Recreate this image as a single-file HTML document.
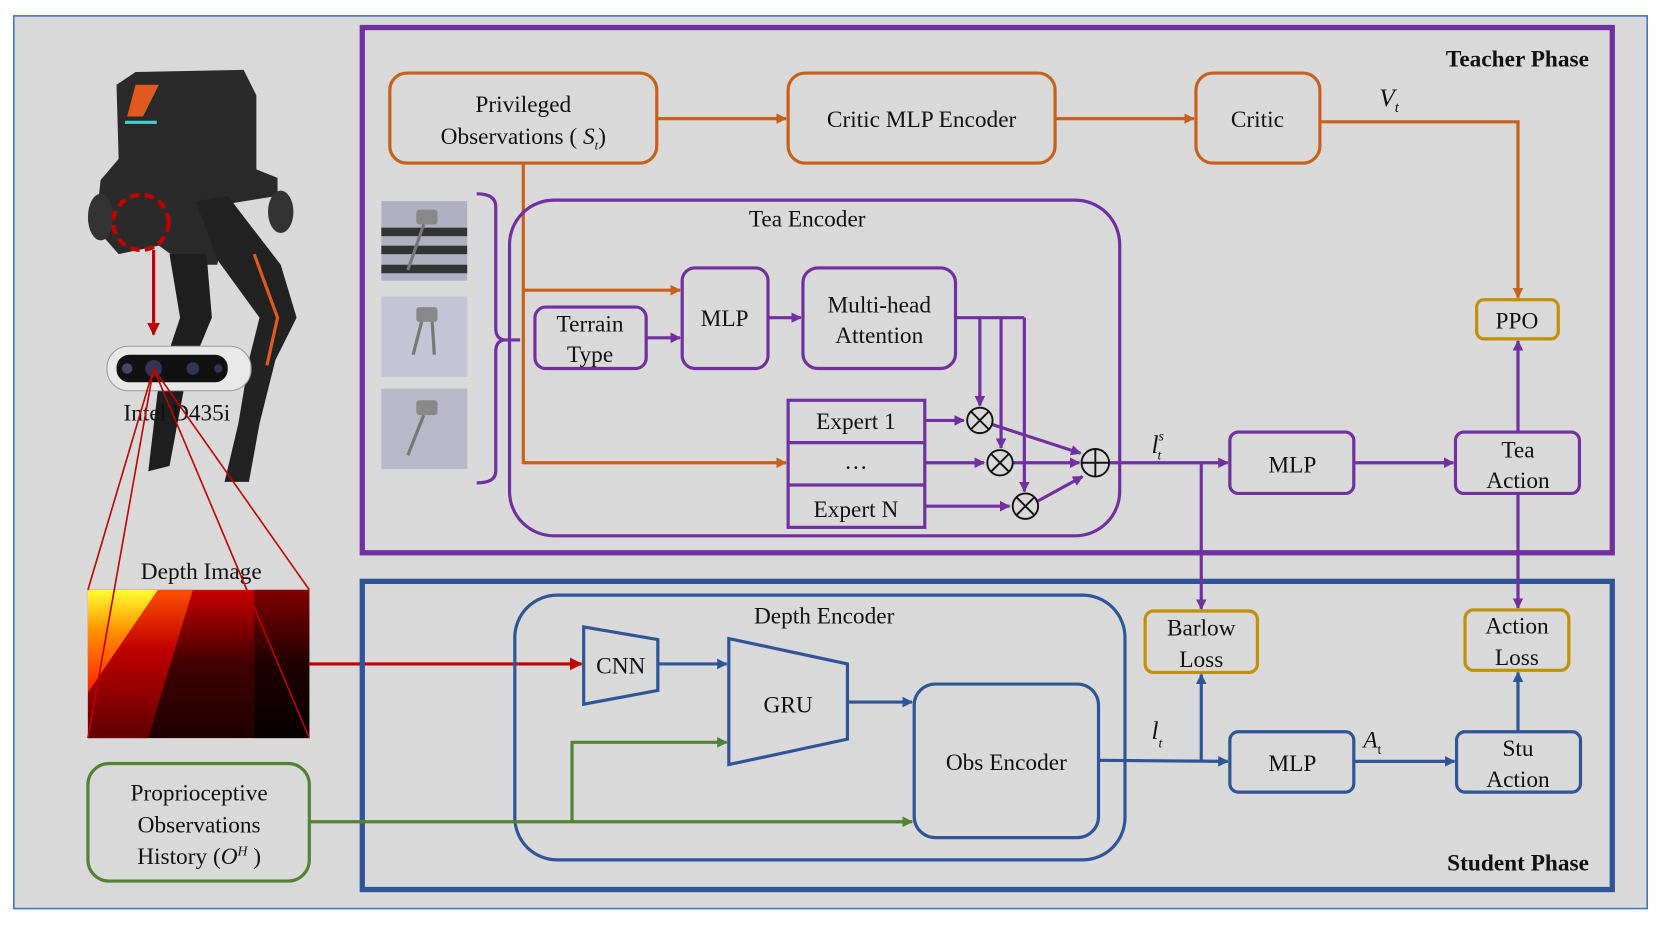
<!DOCTYPE html>
<html><head><meta charset="utf-8"><style>
html,body{margin:0;padding:0;background:#fff;}
svg{display:block;}
text{font-family:"Liberation Serif",serif;fill:#111;}
</style></head><body>
<svg width="1661" height="934" viewBox="0 0 1568 882" preserveAspectRatio="none" xmlns="http://www.w3.org/2000/svg">
<defs>
<marker id="ao" markerWidth="10" markerHeight="10" refX="9" refY="5" orient="auto" markerUnits="userSpaceOnUse"><path d="M0,0 L10,5 L0,10z" fill="#c8601a"/></marker>
<marker id="ap" markerWidth="10" markerHeight="10" refX="9" refY="5" orient="auto" markerUnits="userSpaceOnUse"><path d="M0,0 L10,5 L0,10z" fill="#7030a0"/></marker>
<marker id="ab" markerWidth="10" markerHeight="10" refX="9" refY="5" orient="auto" markerUnits="userSpaceOnUse"><path d="M0,0 L10,5 L0,10z" fill="#2f5597"/></marker>
<marker id="ag" markerWidth="10" markerHeight="10" refX="9" refY="5" orient="auto" markerUnits="userSpaceOnUse"><path d="M0,0 L10,5 L0,10z" fill="#548235"/></marker>
<marker id="ar" markerWidth="12" markerHeight="12" refX="11" refY="6" orient="auto" markerUnits="userSpaceOnUse"><path d="M0,0 L12,6 L0,12z" fill="#c00000"/></marker>
<linearGradient id="dk" x1="0" y1="0" x2="0" y2="1"><stop offset="0" stop-color="#c80000"/><stop offset="0.5" stop-color="#400000"/><stop offset="1" stop-color="#200000"/></linearGradient>
<linearGradient id="dr" x1="0" y1="0" x2="0" y2="1"><stop offset="0" stop-color="#800000"/><stop offset="0.5" stop-color="#200000"/><stop offset="1" stop-color="#050000"/></linearGradient>
<linearGradient id="rd" x1="0" y1="0" x2="0" y2="1"><stop offset="0" stop-color="#ff5000"/><stop offset="0.4" stop-color="#c00000"/><stop offset="1" stop-color="#600000"/></linearGradient>
<linearGradient id="yl" x1="0" y1="0" x2="0" y2="1"><stop offset="0" stop-color="#ffff30"/><stop offset="0.4" stop-color="#ff9000"/><stop offset="1" stop-color="#ff2000"/></linearGradient>
</defs>
<rect x="13" y="15" width="1542" height="843" fill="#d9d9d9" stroke="#4472c4" stroke-width="1.5"/>

<!-- robot -->
<g>
<path d="M110,80 L128,68 L230,66 L242,90 L242,160 L262,168 L262,185 L218,192 L205,250 L175,250 L150,232 L112,240 L90,215 L95,170 L112,150 Z" fill="#2a2a2a"/>
<path d="M128,80 L150,80 L135,110 L120,110Z" fill="#e05a20"/>
<rect x="118" y="114" width="30" height="3" fill="#40d0d0"/>
<path d="M185,190 L215,185 L265,250 L280,300 L260,340 L245,400 L235,455 L212,455 L225,400 L235,340 L245,300 L205,245Z" fill="#222"/>
<path d="M240,240 L262,300 L252,345" stroke="#e05a20" stroke-width="3" fill="none"/>
<path d="M160,240 L195,240 L200,300 L175,360 L160,440 L140,445 L150,360 L170,300Z" fill="#1e1e1e"/>
<ellipse cx="95" cy="205" rx="12" ry="22" fill="#333"/>
<ellipse cx="265" cy="200" rx="12" ry="20" fill="#333"/>
<circle cx="133" cy="210" r="26" fill="none" stroke="#c00000" stroke-width="4" stroke-dasharray="9,5"/>
<line x1="145" y1="236" x2="145" y2="316" stroke="#c00000" stroke-width="3" marker-end="url(#ar)"/>
<rect x="101" y="327" width="136" height="42" rx="20" fill="#e8e8e8" stroke="#999"/>
<rect x="110" y="335" width="105" height="26" rx="12" fill="#111"/>
<circle cx="120" cy="348" r="5" fill="#446"/><circle cx="145" cy="348" r="8" fill="#335"/><circle cx="182" cy="348" r="6" fill="#335"/><circle cx="206" cy="348" r="4" fill="#335"/>
<text x="167" y="397" font-size="22" text-anchor="middle">Intel D435i</text>
</g>
<text x="190" y="547" font-size="22" text-anchor="middle">Depth Image</text>
<rect x="83" y="557" width="209" height="140" fill="url(#dk)"/>
<rect x="240" y="557" width="52" height="140" fill="url(#dr)"/>
<polygon points="83,557 182,557 140,697 83,697" fill="url(#rd)"/>
<polygon points="83,557 149,557 83,654" fill="url(#yl)"/>
<g stroke="#c00000" stroke-width="1.5"><line x1="145" y1="348" x2="83" y2="557"/><line x1="145" y1="348" x2="83" y2="697"/><line x1="145" y1="348" x2="292" y2="557"/><line x1="145" y1="348" x2="292" y2="697"/></g>
<line x1="292" y1="627" x2="549" y2="627" stroke="#c00000" stroke-width="3" marker-end="url(#ar)"/>

<!-- proprio -->
<rect x="83" y="721" width="209" height="111" rx="20" fill="none" stroke="#548235" stroke-width="3"/>
<text x="188" y="756" font-size="22" text-anchor="middle">Proprioceptive</text>
<text x="188" y="786" font-size="22" text-anchor="middle">Observations</text>
<text x="188" y="816" font-size="22" text-anchor="middle">History (<tspan font-style="italic">O</tspan><tspan font-size="13" dy="-8" font-style="italic">H</tspan><tspan dy="8"> )</tspan></text>

<!-- phases -->
<rect x="342" y="26" width="1180" height="496" fill="none" stroke="#7030a0" stroke-width="5"/>
<rect x="342" y="549" width="1180" height="291" fill="none" stroke="#2f5597" stroke-width="5"/>
<text x="1500" y="63" font-size="22" font-weight="bold" text-anchor="end">Teacher Phase</text>
<text x="1500" y="822" font-size="22" font-weight="bold" text-anchor="end">Student Phase</text>

<!-- orange -->
<g fill="none" stroke="#c8601a" stroke-width="3">
<rect x="368" y="69" width="252" height="85" rx="16"/>
<rect x="744" y="69" width="252" height="85" rx="16"/>
<rect x="1129" y="69" width="117" height="85" rx="16"/>
<line x1="620" y1="112" x2="742" y2="112" marker-end="url(#ao)"/>
<line x1="996" y1="112" x2="1127" y2="112" marker-end="url(#ao)"/>
<polyline points="1246,115 1433,115 1433,281" marker-end="url(#ao)"/>
<line x1="494" y1="154" x2="494" y2="438"/>
<line x1="494" y1="274" x2="642" y2="274" marker-end="url(#ao)"/>
<line x1="494" y1="437" x2="742" y2="437" marker-end="url(#ao)"/>
</g>
<text x="494" y="106" font-size="22" text-anchor="middle">Privileged</text>
<text x="494" y="136" font-size="22" text-anchor="middle">Observations ( <tspan font-style="italic">S</tspan><tspan font-size="12" dy="5" font-style="italic">t</tspan><tspan dy="-5">)</tspan></text>
<text x="870" y="120" font-size="22" text-anchor="middle">Critic MLP Encoder</text>
<text x="1187" y="120" font-size="22" text-anchor="middle">Critic</text>
<text x="1302" y="100" font-size="24" font-style="italic">V<tspan font-size="14" dy="6">t</tspan></text>

<!-- images -->
<rect x="360" y="190" width="81" height="75" fill="#b0b0c0"/>
<g fill="#333"><rect x="360" y="215" width="81" height="8"/><rect x="360" y="232" width="81" height="8"/><rect x="360" y="250" width="81" height="8"/></g>
<rect x="360" y="280" width="81" height="76" fill="#c4c4d4"/>
<rect x="360" y="367" width="81" height="76" fill="#b8b8c8"/>
<g fill="#888"><rect x="393" y="198" width="20" height="14" rx="3"/><rect x="393" y="290" width="20" height="14" rx="3"/><rect x="393" y="378" width="20" height="14" rx="3"/></g>
<g stroke="#777" stroke-width="3"><line x1="400" y1="212" x2="385" y2="255"/><line x1="398" y1="304" x2="390" y2="335"/><line x1="408" y1="304" x2="410" y2="335"/><line x1="400" y1="392" x2="385" y2="430"/></g>

<!-- purple -->
<g fill="none" stroke="#7030a0" stroke-width="3">
<path d="M450,183 Q468,183 468,195 L468,310 Q468,320 476,321 Q468,322 468,332 L468,445 Q468,456 450,456"/>
<line x1="476" y1="321" x2="491" y2="321"/>
<rect x="481" y="189" width="576" height="317" rx="42"/>
<rect x="505" y="290" width="105" height="58" rx="10"/>
<rect x="644" y="253" width="81" height="95" rx="12"/>
<rect x="758" y="253" width="144" height="95" rx="14"/>
<rect x="744" y="378" width="129" height="120"/>
<line x1="744" y1="418" x2="873" y2="418"/><line x1="744" y1="458" x2="873" y2="458"/>
<line x1="610" y1="319" x2="642" y2="319" marker-end="url(#ap)"/>
<line x1="725" y1="300" x2="756" y2="300" marker-end="url(#ap)"/>
<line x1="902" y1="300" x2="967" y2="300"/>
<line x1="925" y1="300" x2="925" y2="383" marker-end="url(#ap)"/>
<line x1="945" y1="300" x2="945" y2="423" marker-end="url(#ap)"/>
<line x1="967" y1="300" x2="967" y2="464" marker-end="url(#ap)"/>
<line x1="873" y1="397" x2="910" y2="397" marker-end="url(#ap)"/>
<line x1="873" y1="437" x2="929" y2="437" marker-end="url(#ap)"/>
<line x1="873" y1="478" x2="953" y2="478" marker-end="url(#ap)"/>
<line x1="937" y1="401" x2="1020" y2="428" marker-end="url(#ap)"/>
<line x1="956" y1="437" x2="1019" y2="437" marker-end="url(#ap)"/>
<line x1="980" y1="473" x2="1022" y2="450" marker-end="url(#ap)"/>
<line x1="1047" y1="437" x2="1159" y2="437" marker-end="url(#ap)"/>
<line x1="1134" y1="437" x2="1134" y2="575" marker-end="url(#ap)"/>
<rect x="1161" y="408" width="117" height="58" rx="8"/>
<rect x="1374" y="408" width="117" height="58" rx="8"/>
<line x1="1278" y1="437" x2="1372" y2="437" marker-end="url(#ap)"/>
<line x1="1433" y1="408" x2="1433" y2="322" marker-end="url(#ap)"/>
<line x1="1433" y1="466" x2="1433" y2="574" marker-end="url(#ap)"/>
</g>
<g fill="#fff" fill-opacity="0" stroke="#111" stroke-width="1.8">
<circle cx="925" cy="397" r="12"/><circle cx="944" cy="437" r="12"/><circle cx="968" cy="478" r="12"/><circle cx="1034" cy="437" r="13"/>
<path d="M917,389 L933,405 M933,389 L917,405 M936,429 L952,445 M952,429 L936,445 M960,470 L976,486 M976,470 L960,486 M1021,437 L1047,437 M1034,424 L1034,450"/>
</g>
<text x="762" y="214" font-size="22" text-anchor="middle">Tea Encoder</text>
<text x="557" y="313" font-size="22" text-anchor="middle">Terrain</text>
<text x="557" y="342" font-size="22" text-anchor="middle">Type</text>
<text x="684" y="308" font-size="22" text-anchor="middle">MLP</text>
<text x="830" y="295" font-size="22" text-anchor="middle">Multi-head</text>
<text x="830" y="324" font-size="22" text-anchor="middle">Attention</text>
<text x="808" y="405" font-size="22" text-anchor="middle">Expert 1</text>
<text x="808" y="443" font-size="22" text-anchor="middle">…</text>
<text x="808" y="488" font-size="22" text-anchor="middle">Expert N</text>
<text x="1087" y="428" font-size="24" font-style="italic">l<tspan font-size="13" dy="-12">s</tspan><tspan font-size="13" dx="-6" dy="18">t</tspan></text>
<text x="1220" y="446" font-size="22" text-anchor="middle">MLP</text>
<text x="1433" y="432" font-size="22" text-anchor="middle">Tea</text>
<text x="1433" y="461" font-size="22" text-anchor="middle">Action</text>

<!-- gold -->
<g fill="none" stroke="#bf9000" stroke-width="3">
<rect x="1394" y="283" width="77" height="37" rx="7"/>
<rect x="1081" y="577" width="106" height="58" rx="8"/>
<rect x="1383" y="576" width="98" height="57" rx="8"/>
</g>
<text x="1432" y="310" font-size="22" text-anchor="middle">PPO</text>
<text x="1134" y="600" font-size="22" text-anchor="middle">Barlow</text>
<text x="1134" y="630" font-size="22" text-anchor="middle">Loss</text>
<text x="1432" y="598" font-size="22" text-anchor="middle">Action</text>
<text x="1432" y="628" font-size="22" text-anchor="middle">Loss</text>

<!-- blue -->
<g fill="none" stroke="#2f5597" stroke-width="3">
<rect x="486" y="562" width="576" height="250" rx="40"/>
<polygon points="551,592 621,604 621,652 551,665"/>
<polygon points="688,603 800,627 800,698 688,722"/>
<rect x="863" y="646" width="174" height="145" rx="20"/>
<line x1="621" y1="627" x2="686" y2="627" marker-end="url(#ab)"/>
<line x1="800" y1="663" x2="861" y2="663" marker-end="url(#ab)"/>
<line x1="1037" y1="718" x2="1159" y2="719" marker-end="url(#ab)"/>
<line x1="1134" y1="718" x2="1134" y2="637" marker-end="url(#ab)"/>
<rect x="1161" y="691" width="117" height="57" rx="8"/>
<rect x="1375" y="691" width="117" height="57" rx="8"/>
<line x1="1278" y1="719" x2="1373" y2="719" marker-end="url(#ab)"/>
<line x1="1433" y1="691" x2="1433" y2="635" marker-end="url(#ab)"/>
</g>
<text x="778" y="589" font-size="22" text-anchor="middle">Depth Encoder</text>
<text x="586" y="636" font-size="22" text-anchor="middle">CNN</text>
<text x="744" y="673" font-size="22" text-anchor="middle">GRU</text>
<text x="950" y="727" font-size="22" text-anchor="middle">Obs Encoder</text>
<text x="1087" y="698" font-size="24" font-style="italic">l<tspan font-size="13" dy="8">t</tspan></text>
<text x="1220" y="728" font-size="22" text-anchor="middle">MLP</text>
<text x="1287" y="706" font-size="22" font-style="italic">A<tspan font-size="13" dy="6" font-style="normal">t</tspan></text>
<text x="1433" y="714" font-size="22" text-anchor="middle">Stu</text>
<text x="1433" y="743" font-size="22" text-anchor="middle">Action</text>

<!-- green -->
<g fill="none" stroke="#548235" stroke-width="3">
<line x1="292" y1="776" x2="861" y2="776" marker-end="url(#ag)"/>
<polyline points="540,776 540,701 686,701" marker-end="url(#ag)"/>
</g>
</svg>
</body></html>
